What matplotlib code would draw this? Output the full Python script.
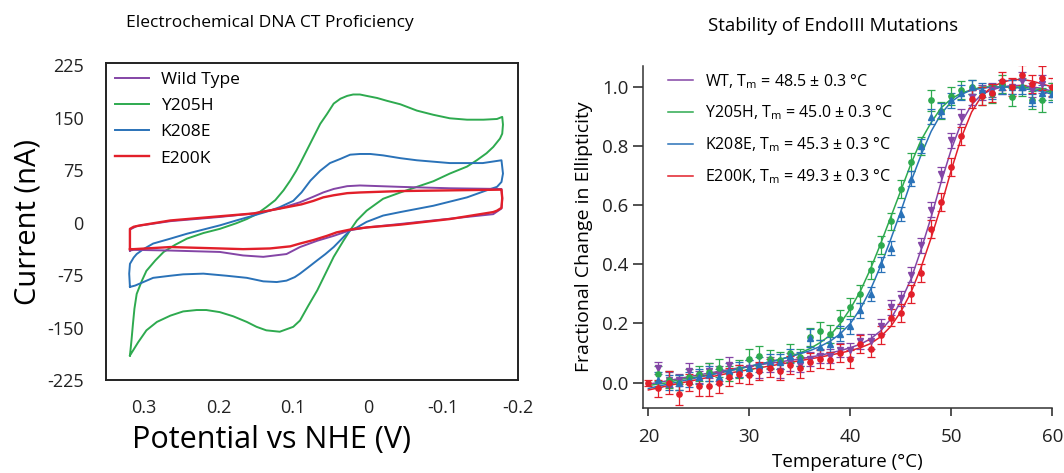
import numpy as np
import matplotlib.pyplot as plt

plt.rcParams['font.family'] = ['Open Sans', 'DejaVu Sans']
plt.rcParams['mathtext.fontset'] = 'custom'
plt.rcParams['mathtext.rm'] = 'Open Sans'
plt.rcParams['mathtext.it'] = 'Open Sans'

# colours
purple = '#8445a6'
green = '#2eaa4f'
blue = '#2a72b8'
red = '#e21f2a'

# ---- cyclic voltammetry loops (potential V vs NHE, current nA) ----
wt_pot = [0.318, 0.318, 0.309, 0.264, 0.198, 0.153, 0.118, 0.091, 0.073, 0.060,
          0.046, 0.028, 0.011, -0.043, -0.109, -0.176, -0.178, -0.179, -0.178,
          -0.167, -0.087, -0.043, 0.002, 0.024, 0.046, 0.068, 0.091, 0.109,
          0.140, 0.167, 0.198, 0.264, 0.313, 0.318]
wt_cur = [-40, -10, -5, 2, 8, 13, 20, 29, 37, 43,
          48, 52, 53, 51, 49, 48, 48, 34, 20,
          12, 3, -2, -7, -11, -19, -26, -35, -45,
          -49, -47, -42, -40, -39, -40]

y205h_pot = [0.318, 0.316, 0.314, 0.312, 0.309, 0.302, 0.296, 0.284, 0.273, 0.258,
             0.242, 0.220, 0.198, 0.176, 0.162, 0.149, 0.136, 0.124, 0.113, 0.104,
             0.096, 0.091, 0.082, 0.073, 0.064, 0.055, 0.046, 0.037, 0.028, 0.020,
             0.011, 0.002, -0.012, -0.025, -0.043, -0.065, -0.087, -0.109, -0.132,
             -0.154, -0.172, -0.179, -0.180, -0.179, -0.176, -0.167, -0.158, -0.145,
             -0.132, -0.109, -0.087, -0.065, -0.043, -0.020, 0.002, 0.015, 0.024,
             0.033, 0.046, 0.068, 0.080, 0.091, 0.100, 0.118, 0.136, 0.149, 0.162,
             0.180, 0.198, 0.216, 0.229, 0.247, 0.264, 0.282, 0.296, 0.307, 0.318]
y205h_cur = [-190, -169, -145, -123, -102, -83, -69, -54, -42, -32,
             -23, -15, -9, -1, 5, 12, 22, 32, 46, 60,
             74, 84, 103, 122, 141, 155, 170, 177, 181, 183,
             183, 181, 178, 174, 169, 160, 154, 149, 147,
             147, 148, 151, 140, 127, 120, 108, 99, 89,
             80, 70, 59, 51, 43, 34, 17, 3, -11,
             -26, -49, -97, -119, -140, -149, -156, -154, -149, -142,
             -134, -128, -125, -125, -127, -133, -142, -154, -171, -190]

k208e_pot = [0.318, 0.319, 0.318, 0.313, 0.309, 0.300, 0.287, 0.264, 0.242, 0.220,
             0.198, 0.176, 0.153, 0.131, 0.118, 0.100, 0.089, 0.077, 0.064, 0.051,
             0.037, 0.024, 0.011, -0.003, -0.020, -0.043, -0.065, -0.109, -0.153,
             -0.178, -0.180, -0.178, -0.172, -0.158, -0.132, -0.087, -0.043, -0.020,
             0.002, 0.015, 0.024, 0.035, 0.046, 0.057, 0.068, 0.080, 0.091, 0.098,
             0.109, 0.122, 0.140, 0.162, 0.189, 0.220, 0.247, 0.264, 0.287, 0.300,
             0.311, 0.318]
k208e_cur = [-92, -73, -59, -50, -45, -38, -30, -23, -16, -10,
             -4, 3, 10, 17, 22, 31, 43, 60, 74, 85,
             91, 97, 98, 98, 96, 92, 89, 85, 85,
             89, 70, 58, 51, 46, 36, 24, 15, 10,
             1, -7, -11, -23, -35, -45, -54, -64, -73, -78,
             -83, -85, -84, -79, -76, -73, -74, -76, -79, -85,
             -90, -92]

e200k_pot = [0.318, 0.318, 0.313, 0.304, 0.264, 0.198, 0.153, 0.118, 0.089, 0.073,
             0.060, 0.046, 0.028, 0.011, -0.043, -0.109, -0.176, -0.178, -0.179,
             -0.178, -0.172, -0.167, -0.109, -0.043, 0.002, 0.024, 0.042, 0.055,
             0.073, 0.091, 0.104, 0.131, 0.167, 0.198, 0.264, 0.313, 0.318]
e200k_cur = [-38, -9, -6, -4, 3, 9, 13, 20, 26, 31,
             36, 39, 42, 43, 45, 46, 47, 47, 35,
             21, 17, 15, 5, -3, -7, -10, -14, -19,
             -25, -30, -34, -37, -38, -37, -35, -38, -38]

cv_ticks_x = [0.3, 0.2, 0.1, 0, -0.1, -0.2]
cv_ticks_y = [-225, -150, -75, 0, 75, 150, 225]

# ---- thermal melts (temperature C, fractional change) ----
temps = list(range(21, 61))
temps_red = list(range(20, 61))
temps_fit = list(range(20, 61))

wt_val = [0.05, 0.01, 0.01, 0.04, 0.02, 0.04, 0.03, 0.06, 0.04, 0.05,
          0.04, 0.06, 0.04, 0.07, 0.06, 0.08, 0.09, 0.09, 0.11, 0.11,
          0.14, 0.14, 0.19, 0.255, 0.285, 0.365, 0.465, 0.585, 0.705, 0.82,
          0.90, 0.965, 0.98, 0.99, 1.0, 1.0, 1.02, 0.99, 1.01, 0.99]
wt_err = [0.02, 0.025, 0.02, 0.025, 0.02, 0.025, 0.025, 0.025, 0.02, 0.025,
          0.025, 0.025, 0.025, 0.03, 0.025, 0.025, 0.025, 0.025, 0.025, 0.025,
          0.025, 0.025, 0.025, 0.025, 0.025, 0.025, 0.025, 0.025, 0.025, 0.025,
          0.025, 0.025, 0.025, 0.025, 0.025, 0.025, 0.03, 0.025, 0.03, 0.025]

y205h_val = [0.03, 0.01, 0.0, 0.02, 0.03, 0.035, 0.05, 0.03, 0.045, 0.08,
             0.09, 0.08, 0.075, 0.10, 0.085, 0.155, 0.175, 0.165, 0.215, 0.255,
             0.30, 0.38, 0.465, 0.545, 0.655, 0.745, 0.80, 0.955, 0.92, 0.97,
             0.99, 1.0, 0.97, 0.975, 1.01, 0.965, 1.0, 0.955, 0.955, 0.985]
y205h_err = [0.025, 0.03, 0.025, 0.025, 0.025, 0.03, 0.03, 0.025, 0.03, 0.035,
             0.035, 0.03, 0.03, 0.03, 0.03, 0.03, 0.03, 0.03, 0.03, 0.03,
             0.03, 0.03, 0.03, 0.03, 0.03, 0.03, 0.03, 0.035, 0.03, 0.03,
             0.03, 0.025, 0.03, 0.03, 0.03, 0.03, 0.03, 0.03, 0.04, 0.03]

k208e_val = [0.01, 0.0, 0.0, 0.01, 0.02, 0.03, 0.02, 0.04, 0.045, 0.05,
             0.06, 0.07, 0.07, 0.09, 0.08, 0.15, 0.12, 0.13, 0.165, 0.19,
             0.245, 0.30, 0.40, 0.455, 0.57, 0.69, 0.80, 0.90, 0.92, 0.955,
             0.98, 1.0, 0.99, 0.985, 1.0, 1.0, 1.0, 0.955, 0.98, 0.975]
k208e_err = [0.025, 0.025, 0.025, 0.025, 0.025, 0.025, 0.025, 0.025, 0.025, 0.025,
             0.025, 0.025, 0.025, 0.025, 0.025, 0.03, 0.025, 0.025, 0.025, 0.025,
             0.025, 0.025, 0.025, 0.025, 0.025, 0.025, 0.025, 0.025, 0.025, 0.025,
             0.025, 0.025, 0.025, 0.025, 0.025, 0.025, 0.025, 0.02, 0.025, 0.025]

e200k_val = [0.0, -0.02, 0.0, -0.04, 0.0, -0.01, -0.01, 0.0, 0.02, 0.03,
             0.025, 0.04, 0.05, 0.04, 0.06, 0.05, 0.07, 0.08, 0.075, 0.10,
             0.08, 0.13, 0.115, 0.16, 0.22, 0.235, 0.30, 0.37, 0.52, 0.61,
             0.73, 0.835, 0.96, 0.97, 0.98, 1.02, 1.0, 1.04, 1.01, 1.03, 1.0]
e200k_err = [0.01, 0.03, 0.04, 0.035, 0.03, 0.035, 0.035, 0.035, 0.03, 0.03,
             0.03, 0.03, 0.03, 0.03, 0.03, 0.035, 0.03, 0.03, 0.03, 0.03,
             0.03, 0.03, 0.03, 0.03, 0.03, 0.03, 0.03, 0.03, 0.03, 0.03,
             0.03, 0.03, 0.03, 0.03, 0.03, 0.03, 0.03, 0.035, 0.03, 0.04, 0.03]

# fitted curves read at each degree
wt_fit = [-0.005, 0.0, 0.007, 0.013, 0.02, 0.026, 0.032, 0.038, 0.044, 0.05,
          0.055, 0.06, 0.065, 0.07, 0.075, 0.08, 0.086, 0.092, 0.10, 0.108,
          0.118, 0.13, 0.148, 0.175, 0.215, 0.275, 0.35, 0.45, 0.56, 0.68,
          0.79, 0.88, 0.94, 0.975, 0.99, 1.0, 1.005, 1.005, 1.0, 0.995, 0.985]
y205h_fit = [-0.01, -0.005, 0.0, 0.01, 0.015, 0.02, 0.027, 0.033, 0.04, 0.047,
             0.055, 0.062, 0.07, 0.078, 0.088, 0.10, 0.115, 0.135, 0.16, 0.20,
             0.25, 0.31, 0.385, 0.47, 0.56, 0.65, 0.74, 0.82, 0.88, 0.93,
             0.96, 0.98, 0.99, 1.0, 1.0, 1.0, 1.0, 1.0, 0.995, 0.99, 0.98]
k208e_fit = [-0.02, -0.012, -0.005, 0.003, 0.01, 0.018, 0.025, 0.032, 0.04, 0.047,
             0.055, 0.062, 0.07, 0.078, 0.087, 0.097, 0.108, 0.122, 0.14, 0.165,
             0.20, 0.25, 0.315, 0.395, 0.485, 0.58, 0.68, 0.77, 0.85, 0.91,
             0.95, 0.975, 0.99, 0.995, 1.0, 1.0, 1.0, 0.995, 0.99, 0.985, 0.975]
e200k_fit = [-0.025, -0.018, -0.01, -0.003, 0.004, 0.011, 0.018, 0.025, 0.032, 0.038,
             0.044, 0.05, 0.056, 0.062, 0.068, 0.074, 0.08, 0.086, 0.093, 0.10,
             0.108, 0.118, 0.132, 0.155, 0.19, 0.24, 0.305, 0.39, 0.49, 0.60,
             0.72, 0.83, 0.915, 0.97, 1.0, 1.015, 1.025, 1.025, 1.02, 1.01, 1.0]

melt_labels = [r'WT, T$_\mathrm{m}$ = 48.5 ± 0.3 °C',
               r'Y205H, T$_\mathrm{m}$ = 45.0 ± 0.3 °C',
               r'K208E, T$_\mathrm{m}$ = 45.3 ± 0.3 °C',
               r'E200K, T$_\mathrm{m}$ = 49.3 ± 0.3 °C']

fig = plt.figure(figsize=(10.64, 4.73), dpi=100)

# ---------------- left panel ----------------
ax1 = fig.add_axes([0.0996, 0.1966, 0.3872, 0.6702])
ax1.plot(wt_pot, wt_cur, color=purple, lw=1.4, label='Wild Type', zorder=3)
ax1.plot(y205h_pot, y205h_cur, color=green, lw=1.4, label='Y205H', zorder=2)
ax1.plot(k208e_pot, k208e_cur, color=blue, lw=1.4, label='K208E', zorder=2)
ax1.plot(e200k_pot, e200k_cur, color=red, lw=1.7, label='E200K', zorder=4)
ax1.set_xlim(0.35, -0.2)
ax1.set_ylim(-225, 228)
ax1.set_xticks(cv_ticks_x)
ax1.set_xticklabels(['0.3', '0.2', '0.1', '0', '-0.1', '-0.2'])
ax1.set_yticks(cv_ticks_y)
ax1.set_yticklabels([str(v) for v in cv_ticks_y])
ax1.tick_params(length=0, labelsize=13, colors='#222222')
ax1.tick_params(axis='y', pad=16)
ax1.tick_params(axis='x', pad=14)
for s in ax1.spines.values():
    s.set_linewidth(1.4)
    s.set_color('#222222')
ax1.set_ylabel('Current (nA)', fontsize=21, labelpad=3)
ax1.legend(loc='upper left', frameon=False, fontsize=12.5,
           handlelength=1.95, handletextpad=0.7, labelspacing=0.58,
           borderaxespad=0.2, borderpad=0.3)
fig.text(0.255, 0.07, 'Potential vs NHE (V)', fontsize=22, ha='center', va='center')
fig.text(0.254, 0.951, 'Electrochemical DNA CT Proficiency', fontsize=12.5,
         ha='center', va='center')

# ---------------- right panel ----------------
ax2 = fig.add_axes([0.6046, 0.1368, 0.3845, 0.7237])
series = [(temps, wt_val, wt_err, wt_fit, purple, 'v'),
          (temps, y205h_val, y205h_err, y205h_fit, green, 'o'),
          (temps, k208e_val, k208e_err, k208e_fit, blue, '^'),
          (temps_red, e200k_val, e200k_err, e200k_fit, red, 'o')]
handles = []
for t, v, e, f, c, m in series:
    ln, = ax2.plot(temps_fit, f, color=c, lw=1.1, zorder=2)
    handles.append(ln)
    ax2.errorbar(t, v, yerr=e, fmt=m, ms=3.8, color=c, ecolor=c, elinewidth=0.9,
                 capsize=3, capthick=0.9, zorder=3)
ax2.set_xlim(19.5, 60)
ax2.set_ylim(-0.087, 1.071)
ax2.set_xticks([20, 30, 40, 50, 60])
ax2.set_yticks([0.0, 0.2, 0.4, 0.6, 0.8, 1.0])
ax2.set_yticklabels(['0.0', '0.2', '0.4', '0.6', '0.8', '1.0'])
ax2.spines['top'].set_visible(False)
ax2.spines['right'].set_visible(False)
for s in ['left', 'bottom']:
    ax2.spines[s].set_linewidth(1.1)
    ax2.spines[s].set_color('#333333')
ax2.tick_params(direction='out', width=1.1, labelsize=13.5, colors='#222222')
ax2.tick_params(axis='y', length=7, pad=3.5)
ax2.tick_params(axis='x', length=6, pad=8)
ax2.set_ylabel('Fractional Change in Ellipticity', fontsize=14, labelpad=7)
ax2.set_xlabel('Temperature (°C)', fontsize=13.5, labelpad=5)
ax2.legend(handles, melt_labels, loc='upper left', frameon=False, fontsize=11.5,
           handlelength=1.6, handletextpad=0.7, labelspacing=0.82,
           bbox_to_anchor=(0.025, 1.025))
fig.text(0.783, 0.945, 'Stability of EndoIII Mutations', fontsize=13.5,
         ha='center', va='center')

fig.savefig('out.png', dpi=100)
